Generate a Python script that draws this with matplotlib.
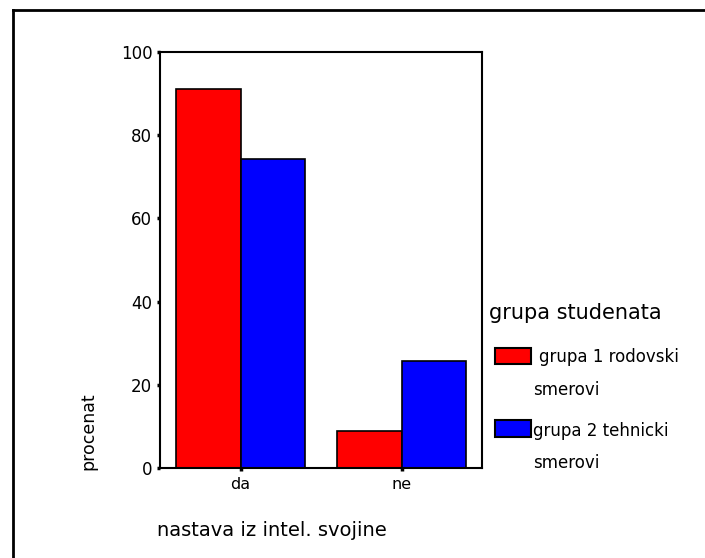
import matplotlib
matplotlib.use("Agg")
import matplotlib.pyplot as plt
import numpy as np
from matplotlib.patches import Rectangle
from matplotlib.lines import Line2D

categories = ["da", "ne"]
group1 = [91.2, 8.8]
group2 = [74.2, 25.8]
series_labels = ["grupa 1 rodovski", "grupa 2 tehnicki"]
series_label2 = ["smerovi", "smerovi"]
legend_title = "grupa studenata"
yticks = [0, 20, 40, 60, 80, 100]
xlabel = "nastava iz intel. svojine"
ylabel = "procenat"

plt.rcParams['font.family'] = ['DejaVu Sans']

W, H = 705, 558
fig = plt.figure(figsize=(W / 100, H / 100), dpi=100)
ax = fig.add_axes([160 / W, 1 - 468 / H, (482 - 160) / W, (468 - 52) / H])

x = np.arange(len(categories))
bw = 0.4
ax.bar(x - bw / 2, group1, width=bw, color="#ff0000", edgecolor="black", linewidth=1.2)
ax.bar(x + bw / 2, group2, width=bw, color="#0000ff", edgecolor="black", linewidth=1.2)

ax.set_xlim(-0.5, 1.5)
ax.set_ylim(0, 100)
ax.set_xticks(x)
ax.set_xticklabels(categories, fontsize=11.5)
ax.set_yticks(yticks)
ax.set_yticklabels([str(v) for v in yticks], fontsize=12)
ax.tick_params(axis='both', direction='out', length=2.5, width=2.5, pad=3)
ax.tick_params(axis='x', pad=4)
for s in ax.spines.values():
    s.set_linewidth(1.5)

# axis labels
fig.text(88 / W, 1 - 470 / H, ylabel, rotation=90, ha='center', va='bottom', fontsize=12.5)
fig.text(157 / W, 1 - 531 / H, xlabel, ha='left', va='center', fontsize=14)

# outer frame (top and left lines)
fig.add_artist(Line2D([13 / W, 13 / W], [0, 1 - 10 / H], transform=fig.transFigure, color='black', linewidth=2))
fig.add_artist(Line2D([13 / W, 1], [1 - 10 / H, 1 - 10 / H], transform=fig.transFigure, color='black', linewidth=2))

# legend
fig.text(489 / W, 1 - 313 / H, legend_title, ha='left', va='center', fontsize=15)
colors = ["#ff0000", "#0000ff"]
patch_y = [(348, 364), (420, 437)]
lab_x = [539, 533]
lab_y = [357, 431]
lab2_y = [390, 463]
for i in range(2):
    y0, y1 = patch_y[i]
    fig.add_artist(Rectangle((495 / W, 1 - y1 / H), 36 / W, (y1 - y0) / H,
                             transform=fig.transFigure, facecolor=colors[i],
                             edgecolor='black', linewidth=1.5))
    fig.text(lab_x[i] / W, 1 - lab_y[i] / H, series_labels[i], ha='left', va='center', fontsize=12)
    fig.text(533 / W, 1 - lab2_y[i] / H, series_label2[i], ha='left', va='center', fontsize=12)

fig.savefig("out.png", dpi=100, facecolor='white')
